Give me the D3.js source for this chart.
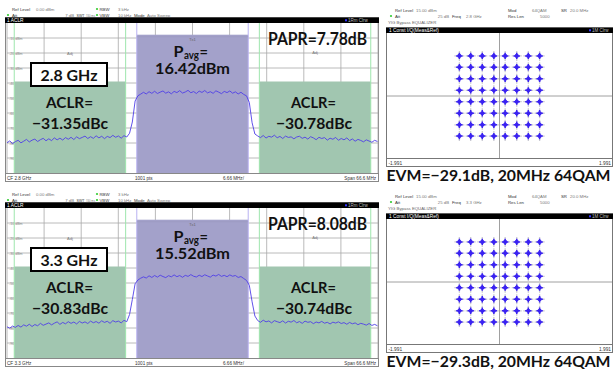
<!DOCTYPE html>
<html><head><meta charset="utf-8">
<script src="https://cdn.jsdelivr.net/npm/d3@7"></script>
<style>body{margin:0;background:#fff}svg{display:block}</style>
</head><body><svg id="c" width="613" height="374"></svg>
<script>
// ---------------- data ----------------
const spanMHz = [-33.3, 33.3];
const freqStart = -33.3, freqStep = 0.5;
const refLevel = 0;
const gridDbm = [-10, -20, -30, -40, -50, -60, -70, -80, -90];
const gridLabels = ["-10 dBm", "-20 dBm", "-30 dBm", "-40 dBm", "-50 dBm", "-60 dBm", "-70 dBm", "-80 dBm", "-90 dBm"];
const txChannel = [-10, 10];
const adjChannels = [[-32, -12], [12, 32]];
const txLimitDbm = -7.8;
const adjLimitDbm = -39;

const trace28 = [
-79.8,-78.6,-80.4,-79.1,-78.2,-79.9,-78.8,-77.6,-79.3,-78.1,-77.4,-79.0,-77.8,-76.9,-78.5,-77.2,-78.4,-76.6,-77.9,-76.8,-78.0,-76.4,-77.5,-76.2,-77.7,-75.9,-77.1,-76.3,-75.4,-77.0,-75.8,-76.9,-75.2,-76.6,-75.5,-77.1,-75.6,-76.4,-74.9,-76.2,-75.3,-76.8,-75.1,-76.0,
-73.5,-66.0,-52.0,
-48.5,-47.4,-46.2,-47.3,-45.8,-46.9,-45.5,-47.0,-46.1,-45.3,-46.8,-45.9,-47.2,-45.6,-46.4,-45.1,-46.7,-46.0,-44.9,-46.5,-45.7,-47.0,-45.4,-46.3,-45.0,-46.6,-45.8,-46.9,-45.2,-46.1,-47.1,-45.6,-46.4,-45.3,-46.8,-45.9,-47.3,-46.2,-47.6,-48.6,
-53.0,-66.5,-74.0,
-75.3,-76.4,-75.0,-76.7,-75.5,-76.1,-74.8,-76.5,-75.6,-77.0,-75.4,-76.3,-75.9,-77.2,-76.0,-75.5,-76.9,-76.1,-77.4,-75.8,-76.6,-77.8,-76.2,-77.0,-76.4,-78.1,-76.8,-77.5,-76.3,-78.2,-77.0,-77.9,-76.6,-78.4,-77.3,-78.8,-77.6,-78.3,-79.2,-77.9,-78.7,-79.5,-78.2,-79.0];

const trace33 = [
-79.2,-80.1,-78.7,-79.6,-78.3,-79.4,-77.9,-78.8,-77.5,-79.0,-77.7,-78.5,-76.9,-78.2,-77.4,-76.6,-77.9,-76.8,-75.9,-77.6,-76.3,-77.2,-75.8,-76.9,-76.0,-77.3,-75.6,-76.7,-75.9,-77.0,-75.4,-76.5,-75.7,-76.8,-75.2,-76.3,-75.5,-76.9,-75.1,-76.0,-75.4,-76.6,-74.9,-75.8,
-71.0,-61.0,-50.5,
-48.0,-46.8,-45.9,-46.7,-45.2,-46.3,-45.0,-46.1,-44.8,-45.7,-46.4,-45.1,-45.9,-44.6,-45.8,-45.0,-46.2,-44.9,-45.6,-44.4,-45.5,-46.0,-44.8,-45.7,-44.5,-45.3,-46.1,-44.7,-45.4,-44.3,-45.6,-44.9,-45.8,-44.6,-45.5,-45.0,-46.3,-45.7,-47.0,-48.3,
-51.5,-62.5,-72.0,
-75.0,-76.2,-74.8,-75.9,-75.3,-76.6,-75.1,-75.8,-76.4,-75.2,-76.7,-75.5,-76.1,-75.0,-76.5,-75.7,-76.9,-75.4,-76.2,-75.8,-77.1,-76.0,-76.6,-75.6,-76.8,-76.2,-77.3,-76.1,-76.7,-75.9,-77.0,-76.4,-77.5,-76.3,-77.2,-76.6,-77.8,-76.9,-77.4,-78.1,-77.0,-78.3,-77.6,-78.5];

const cfLabels = ["2.8 GHz", "3.3 GHz"];
const aclrLeft = ["\u221231.35dBc", "\u221230.83dBc"];
const aclrRight = ["\u221230.78dBc", "\u221230.74dBc"];
const pavgValues = ["16.42dBm", "15.52dBm"];
const paprValues = ["PAPR=7.78dB", "PAPR=8.08dB"];
const evmValues = ["EVM=\u221229.1dB, 20MHz 64QAM", "EVM=\u221229.3dB, 20MHz 64QAM"];

const constLevels = [-0.71, -0.51, -0.305, -0.1, 0.1, 0.305, 0.51, 0.71];
const iqRange = [-1.991, 1.991];
const iqTickLabels = ["-1.991", "1.991"];

// ---------------- drawing ----------------
const svg = d3.select("#c");
const SMALL = "'Liberation Sans', Arial, sans-serif";
const BIG = "Lato, 'Open Sans', sans-serif";
const GREEN = "#a1c6b0", PURPLE = "#a3a1ca", TRACE = "#4f3ee8";

function small(g, x, y, t, fill, anchor, size, w) {
  const el = g.append("text").attr("x", x).attr("y", y).text(t)
    .attr("font-family", SMALL).attr("font-size", size || 4.3)
    .attr("fill", fill || "#777").attr("text-anchor", anchor || "start");
  if (w) el.attr("textLength", w).attr("lengthAdjust", "spacingAndGlyphs");
  return el;
}
function big(g, x, base, t, w, size, anchor) {
  const el = g.append("text").attr("x", x).attr("y", base).text(t)
    .attr("font-family", BIG).attr("font-weight", 700).attr("font-size", size || 15.5)
    .attr("fill", "#111").attr("text-anchor", anchor || "middle");
  if (w) el.attr("textLength", w).attr("lengthAdjust", "spacingAndGlyphs");
  return el;
}
function dot(g, x, y, c) {
  g.append("circle").attr("cx", x).attr("cy", y).attr("r", 1.1).attr("fill", c);
}

function spectrum(k, oy) {
  const trace = k === 0 ? trace28 : trace33;
  const g = svg.append("g").attr("transform", `translate(0,${oy})`);
  const x = d3.scaleLinear().domain(spanMHz).range([7, 378]);
  const y = d3.scaleLinear().domain([refLevel, refLevel - 100]).range([23, 173]);

  // header
  small(g, 12, 10.5, "Ref Level", "#333"); small(g, 36, 10.5, "0.00 dBm");
  dot(g, 8, 15, "#3c3"); small(g, 12, 16.5, "Att", "#333"); small(g, 74, 16.5, "7 dB", "#777", "end");
  small(g, 76.5, 16.5, "SWT", "#333", "start", 4.3, 8); small(g, 86, 16.5, "740 ms", "#777", "start", 4.3, 9);
  dot(g, 97, 9, "#3c3"); small(g, 99.5, 10.5, "RBW", "#333"); small(g, 118, 10.5, "3 kHz");
  dot(g, 97, 15, "#3c3"); small(g, 99.5, 16.5, "VBW", "#333"); small(g, 118, 16.5, "10 kHz");
  small(g, 134, 16.5, "Mode", "#333"); small(g, 147, 16.5, "Auto Sweep");

  // frame and black bar
  g.append("rect").attr("x", 5.5).attr("y", 17.5).attr("width", 373).attr("height", 164)
    .attr("fill", "#fff").attr("stroke", "#888");
  g.append("rect").attr("x", 5).attr("y", 17.5).attr("width", 374).attr("height", 5.5).attr("fill", "#000");
  small(g, 7, 22.2, "1 ACLR", "#fff", "start", 4.8);
  g.append("rect").attr("x", 345).attr("y", 19.3).attr("width", 2).attr("height", 2).attr("fill", "#33f");
  small(g, 348, 22.2, "1Rm Clrw", "#bbb", "start", 4.5);

  // grid
  const gx = d3.range(0, 11).map(i => spanMHz[0] + i * (spanMHz[1] - spanMHz[0]) / 10);
  g.append("g").selectAll("line").data(gx).join("line")
    .attr("x1", d => x(d)).attr("x2", d => x(d)).attr("y1", y(0)).attr("y2", y(-100))
    .attr("stroke", "#a8a8a8").attr("stroke-width", 0.8);
  g.append("g").selectAll("line").data(gridDbm).join("line")
    .attr("x1", x(spanMHz[0])).attr("x2", x(spanMHz[1])).attr("y1", d => y(d)).attr("y2", d => y(d))
    .attr("stroke", "#a8a8a8").attr("stroke-width", 0.8);
  gridDbm.forEach((d, i) => small(g, 9, y(d) + 1.5, gridLabels[i], "#888", "start", 3.6));

  // channel boxes
  adjChannels.forEach(c => {
    g.append("rect").attr("x", x(c[0])).attr("y", y(adjLimitDbm))
      .attr("width", x(c[1]) - x(c[0])).attr("height", y(-100) - y(adjLimitDbm)).attr("fill", GREEN);
    c.forEach(f => g.append("line").attr("x1", x(f)).attr("x2", x(f)).attr("y1", y(0)).attr("y2", y(-100))
      .attr("stroke", "#9ee6ad").attr("stroke-width", 1));
  });
  g.append("rect").attr("x", x(txChannel[0])).attr("y", y(txLimitDbm))
    .attr("width", x(txChannel[1]) - x(txChannel[0])).attr("height", y(-100) - y(txLimitDbm)).attr("fill", PURPLE);
  txChannel.forEach(f => g.append("line").attr("x1", x(f)).attr("x2", x(f)).attr("y1", y(0)).attr("y2", y(-100))
    .attr("stroke", "#b9b2f2").attr("stroke-width", 1));
  g.append("line").attr("x1", x(txChannel[0])).attr("x2", x(txChannel[1]))
    .attr("y1", y(txLimitDbm) + 2).attr("y2", y(txLimitDbm) + 2).attr("stroke", "#9a98c0").attr("stroke-width", 0.6);

  small(g, x(-22), y(-20) + 2, "Adj", "#777", "middle", 4);
  small(g, x(0), y(-12), "Tx1", "#666", "middle", 4);
  small(g, x(22), y(-19) + 2, "Adj", "#777", "middle", 4);

  // trace
  const line = d3.line().x((d, i) => x(freqStart + i * freqStep)).y(d => y(d));
  g.append("path").datum(trace).attr("d", line).attr("fill", "none")
    .attr("stroke", TRACE).attr("stroke-width", 0.9);

  // footer
  g.append("line").attr("x1", 5.5).attr("x2", 378.5).attr("y1", 173.5).attr("y2", 173.5).attr("stroke", "#888");
  small(g, 7, 179.5, "CF " + cfLabels[k], "#333", "start", 4.6);
  small(g, 135, 179.5, "1001 pts", "#333", "start", 4.6);
  small(g, 223, 179.5, "6.66 MHz/", "#333", "start", 4.6);
  small(g, 376, 179.5, "Span 66.6 MHz", "#333", "end", 4.6);

  // annotations
  big(g, 317.5, 45, paprValues[k], 99, 16.5);
  g.append("rect").attr("x", 31).attr("y", 63).attr("width", 76).attr("height", 23)
    .attr("fill", "#fff").attr("stroke", "#000").attr("stroke-width", 2);
  big(g, 69, 80.5, cfLabels[k], 57, 16);
  big(g, 69.5, 108, "ACLR=", 47);
  big(g, 70, 128.5, aclrLeft[k], 76);
  big(g, 313.5, 108, "ACLR=", 45);
  big(g, 314, 128.5, aclrRight[k], 76);
  // P_avg =
  big(g, 173.5, 56.5, "P", 10, 15.5, "start");
  big(g, 184, 58.5, "avg", 15, 10.5, "start");
  big(g, 199.5, 56.5, "=", 8.5, 15.5, "start");
  big(g, 192.5, 74, pavgValues[k], 75);
}

function constellation(k, oy) {
  const g = svg.append("g").attr("transform", `translate(0,${oy})`);
  const x = d3.scaleLinear().domain(iqRange).range([387, 612]);
  const y = d3.scaleLinear().domain([-1.106, 1.106]).range([158.5, 33.5]);
  const freq = cfLabels[k];

  small(g, 395, 11.5, "Ref Level", "#333"); small(g, 416, 11.5, "15.00 dBm");
  dot(g, 391, 16, "#3c3"); small(g, 395, 17.5, "Att", "#333"); small(g, 449, 17.5, "25 dB", "#777", "end");
  small(g, 452, 17.5, "Freq", "#333"); small(g, 466, 17.5, freq);
  small(g, 508, 11.5, "Mod", "#333"); small(g, 532, 11.5, "64QAM");
  small(g, 561, 11.5, "SR", "#333"); small(g, 570, 11.5, "20.0 MHz");
  small(g, 508, 17.5, "Res Len", "#333"); small(g, 540, 17.5, "5000");
  small(g, 388, 24, "YIG Bypass EQUALIZER", "#666", "start", 4.3);

  g.append("rect").attr("x", 386.5).attr("y", 28).attr("width", 226).attr("height", 138.5)
    .attr("fill", "#fff").attr("stroke", "#777");
  g.append("rect").attr("x", 386).attr("y", 27.5).attr("width", 227).attr("height", 5.5).attr("fill", "#000");
  small(g, 389, 32.3, "1 Const I/Q(Meas&Ref)", "#fff", "start", 4.8);
  g.append("rect").attr("x", 589).attr("y", 29.3).attr("width", 2).attr("height", 2).attr("fill", "#33f");
  small(g, 592, 32.3, "1M Clrw", "#bbb", "start", 4.5);

  g.append("line").attr("x1", x(0)).attr("x2", x(0)).attr("y1", 33).attr("y2", 158.5).attr("stroke", "#888").attr("stroke-width", 0.8);
  g.append("line").attr("x1", 387).attr("x2", 612).attr("y1", y(0)).attr("y2", y(0)).attr("stroke", "#888").attr("stroke-width", 0.8);
  g.append("line").attr("x1", 386.5).attr("x2", 612.5).attr("y1", 158.5).attr("y2", 158.5).attr("stroke", "#777");
  small(g, 388.5, 164.5, iqTickLabels[0], "#333", "start", 4.8);
  small(g, 611, 164.5, iqTickLabels[1], "#333", "end", 4.8);

  const pts = [];
  constLevels.forEach(i => constLevels.forEach(q => pts.push([i, q])));
  const pg = g.append("g");
  pg.selectAll("path.ref").data(pts).join("path").attr("class", "ref")
    .attr("transform", d => `translate(${x(d[0])},${y(d[1])})`)
    .attr("d", "M-5,0H5M0,-5V5").attr("stroke", "#c9c9d2").attr("stroke-width", 1.3);
  pg.selectAll("path.sym").data(pts).join("path").attr("class", "sym")
    .attr("transform", d => `translate(${x(d[0])},${y(d[1])})`)
    .attr("d", "M-3.2,0H3.2M0,-3.2V3.2").attr("stroke", "#3a22f2").attr("stroke-width", 1.5);
  pg.selectAll("circle").data(pts).join("circle")
    .attr("cx", d => x(d[0])).attr("cy", d => y(d[1])).attr("r", 2.1).attr("fill", "#3a22f2");

  big(g, 498.5, 180.5, evmValues[k], 224, 15);
}

spectrum(0, 0);
spectrum(1, 185);
constellation(0, 0);
constellation(1, 186);
</script></body></html>
